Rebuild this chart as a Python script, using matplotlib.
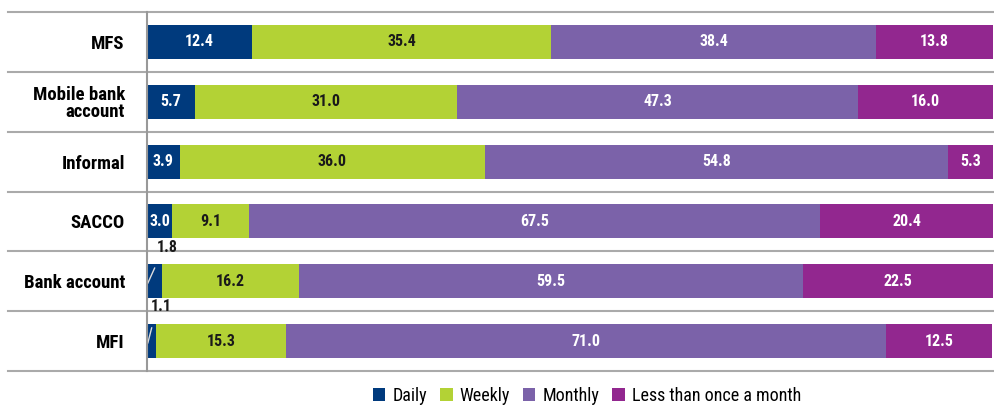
import matplotlib
matplotlib.use("Agg")
import matplotlib.pyplot as plt
import matplotlib.transforms as mtransforms
from matplotlib.patches import Patch
from matplotlib import font_manager

names = sorted({f.name for f in font_manager.fontManager.ttflist})
print(names)
cond = [n for n in ["DejaVu Sans Condensed", "Roboto Condensed", "Open Sans Condensed"] if n in names]
plt.rcParams["font.family"] = cond + ["Roboto", "DejaVu Sans"]
plt.rcParams["font.stretch"] = "condensed"

categories = ["MFS", "Mobile bank\naccount", "Informal", "SACCO", "Bank account", "MFI"]
series_names = ["Daily", "Weekly", "Monthly", "Less than once a month"]
daily = [12.4, 5.7, 3.9, 3.0, 1.8, 1.1]
weekly = [35.4, 31.0, 36.0, 9.1, 16.2, 15.3]
monthly = [38.4, 47.3, 54.8, 67.5, 59.5, 71.0]
less_monthly = [13.8, 16.0, 5.3, 20.4, 22.5, 12.5]

colors = ["#003a7d", "#b3d235", "#7b62a9", "#92278f"]
text_colors = ["white", "#1a1a1a", "white", "white"]

fig = plt.figure(figsize=(9.95, 4.07), dpi=100)
ax = fig.add_axes([147 / 995, 1 - 371 / 407, 846 / 995, 359 / 407])

ypos = list(range(len(categories)))
left = [0.0] * len(categories)
for vals, col, tcol in zip([daily, weekly, monthly, less_monthly], colors, text_colors):
    ax.barh(ypos, vals, left=left, height=0.57, color=col, edgecolor="none")
    for i, v in enumerate(vals):
        if v < 2.5:
            # tiny segment: value above the bar, with a slash inside it
            ax.text(v + 0.6, i - 0.57, f"{v:.1f}", ha="center", va="center",
                    fontsize=11.5, fontweight="bold", color="#1a1a1a")
            ax.plot([0.1, v * 0.5], [i + 0.03, i - 0.22], color="#dddddd", lw=1)
        else:
            ax.text(left[i] + v / 2, i, f"{v:.1f}", ha="center", va="center",
                    fontsize=11.5, fontweight="bold", color=tcol)
    left = [a + b for a, b in zip(left, vals)]

ax.set_xlim(0, 100)
ax.set_ylim(len(categories) - 0.5, -0.5)
ax.set_xticks([])
ax.set_yticks(ypos)
ax.set_yticklabels(categories, fontsize=13.5, fontweight="bold", linespacing=0.95)
ax.tick_params(axis="y", length=0, pad=16)
for s in ["top", "right", "bottom"]:
    ax.spines[s].set_visible(False)
ax.spines["left"].set_color("#999999")
ax.spines["left"].set_linewidth(1.5)

# separator lines running across the full width
trans = mtransforms.blended_transform_factory(fig.transFigure, ax.transData)
for k in range(len(categories) + 1):
    yv = k - 0.5
    ax.plot([8 / 995, 1.0], [yv, yv], transform=trans, color="#aaaaaa",
            lw=1.5, clip_on=False, zorder=0)

handles = [Patch(facecolor=c, edgecolor="none") for c in colors]
fig.legend(handles, series_names, loc="center", bbox_to_anchor=(0.59, 0.028),
           ncol=4, frameon=False, fontsize=13, handlelength=0.7, handleheight=0.7,
           handletextpad=0.4, columnspacing=0.7)

fig.savefig("out.png", dpi=100)
